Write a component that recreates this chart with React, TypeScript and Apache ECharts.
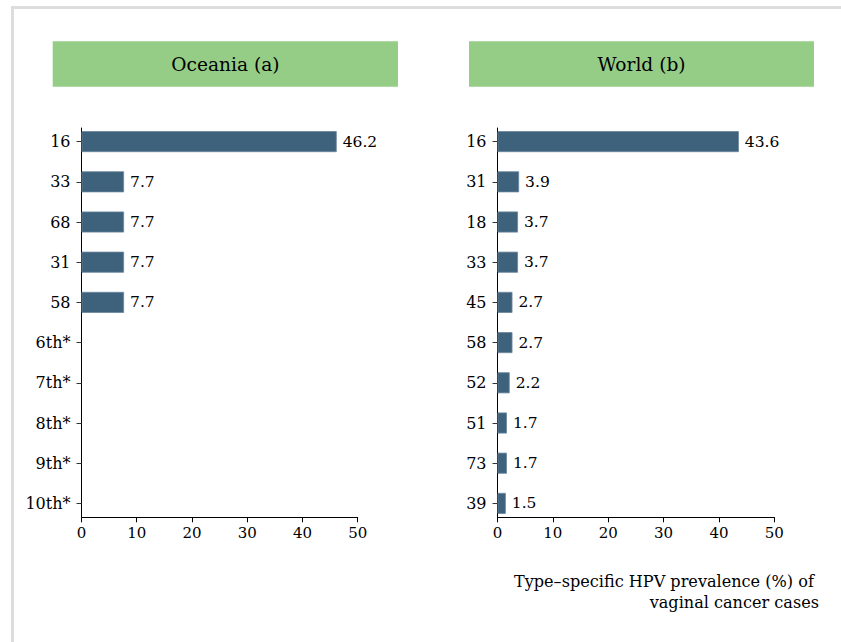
import React, { useEffect, useRef } from "react";
import * as echarts from "echarts";

const oceaniaTypes = ["16", "33", "68", "31", "58", "6th*", "7th*", "8th*", "9th*", "10th*"];
const oceaniaValues: (number | string)[] = [46.2, 7.7, 7.7, 7.7, 7.7, "-", "-", "-", "-", "-"];
const worldTypes = ["16", "31", "18", "33", "45", "58", "52", "51", "73", "39"];
const worldValues = [43.6, 3.9, 3.7, 3.7, 2.7, 2.7, 2.2, 1.7, 1.7, 1.5];
const panelTitles = ["Oceania (a)", "World (b)"];
const xTicks = { min: 0, max: 50, interval: 10 };
const captionText = "Type\u2013specific HPV prevalence (%) of \nvaginal cancer cases";

const FONT = "DejaVu Serif";
const BAR = "#3e627c";
const GREEN = "#95cd87";
const INK = "#000";

export default function App() {
  const ref = useRef<HTMLDivElement>(null);
  useEffect(() => {
    if (!ref.current) return;
    const chart = echarts.init(ref.current, null, { renderer: "svg" });
    const panels = [
      { left: 81.5, width: 276.2, cats: oceaniaTypes, vals: oceaniaValues },
      { left: 497.5, width: 276.8, cats: worldTypes, vals: worldValues },
    ];
    const grids: any[] = [];
    const xAxes: any[] = [];
    const yAxes: any[] = [];
    const series: any[] = [];
    panels.forEach((p, i) => {
      grids.push({ left: p.left, top: 121.5, width: p.width, height: 402, containLabel: false });
      grids.push({ left: p.left, top: 128, width: p.width, height: 389.3, containLabel: false });
      xAxes.push({
        gridIndex: 2 * i, type: "value", min: xTicks.min, max: xTicks.max, show: false,
      });
      xAxes.push({
        gridIndex: 2 * i + 1, type: "value", min: xTicks.min, max: xTicks.max, interval: xTicks.interval,
        axisLine: { show: true, lineStyle: { color: "#000", width: 1 } },
        axisTick: { show: true, length: 5, lineStyle: { color: "#000" } },
        axisLabel: { show: true, margin: 8, color: INK, fontFamily: FONT, fontSize: 15 },
        splitLine: { show: false },
      });
      yAxes.push({
        gridIndex: 2 * i, type: "category", inverse: true, data: p.cats,
        axisLine: { show: false },
        axisTick: { show: true, alignWithLabel: true, length: 5, lineStyle: { color: "#333" } },
        axisLabel: { margin: 11, color: INK, fontFamily: FONT, fontSize: 16 },
        splitLine: { show: false },
      });
      yAxes.push({
        gridIndex: 2 * i + 1, type: "value", min: 0, max: 1,
        axisLine: { show: true, onZero: false, lineStyle: { color: "#000", width: 1 } },
        axisTick: { show: false }, axisLabel: { show: false }, splitLine: { show: false },
      });
      series.push({
        type: "bar", xAxisIndex: 2 * i, yAxisIndex: 2 * i, data: p.vals, barWidth: 21,
        itemStyle: { color: BAR, borderColor: "#6a879d", borderWidth: 0.8 },
        label: { show: true, position: "right", distance: 6, color: INK, fontFamily: FONT, fontSize: 15.5 },
        silent: true,
      });
    });
    const graphic: any[] = [];
    const headerRects = [
      { x: 52.7, w: 345.3 },
      { x: 469, w: 345 },
    ];
    headerRects.forEach((h, i) => {
      graphic.push({ type: "rect", shape: { x: h.x, y: 41.3, width: h.w, height: 45.4 }, style: { fill: GREEN } });
      graphic.push({
        type: "text", x: h.x + h.w / 2, y: 64,
        style: { text: panelTitles[i], fill: INK, font: `18.6px '${FONT}'`, align: "center", verticalAlign: "middle" },
      });
    });
    graphic.push({
      type: "text", x: 819, y: 592,
      style: { text: captionText, fill: INK, font: `16.1px '${FONT}'`, align: "right", verticalAlign: "middle", lineHeight: 21 },
    });
    chart.setOption({
      animation: false,
      grid: grids,
      xAxis: xAxes,
      yAxis: yAxes,
      series,
      graphic,
    });
    return () => chart.dispose();
  }, []);
  return (
    <div style={{ position: "absolute", left: 0, top: 0, width: 841, height: 642, background: "#fff" }}>
      <div style={{ position: "absolute", left: 11, top: 6, right: 0, bottom: 0, borderTop: "3px solid #dddddd", borderLeft: "3px solid #dddddd" }} />
      <div ref={ref} style={{ position: "absolute", left: 0, top: 0, width: 841, height: 642 }} />
    </div>
  );
}
